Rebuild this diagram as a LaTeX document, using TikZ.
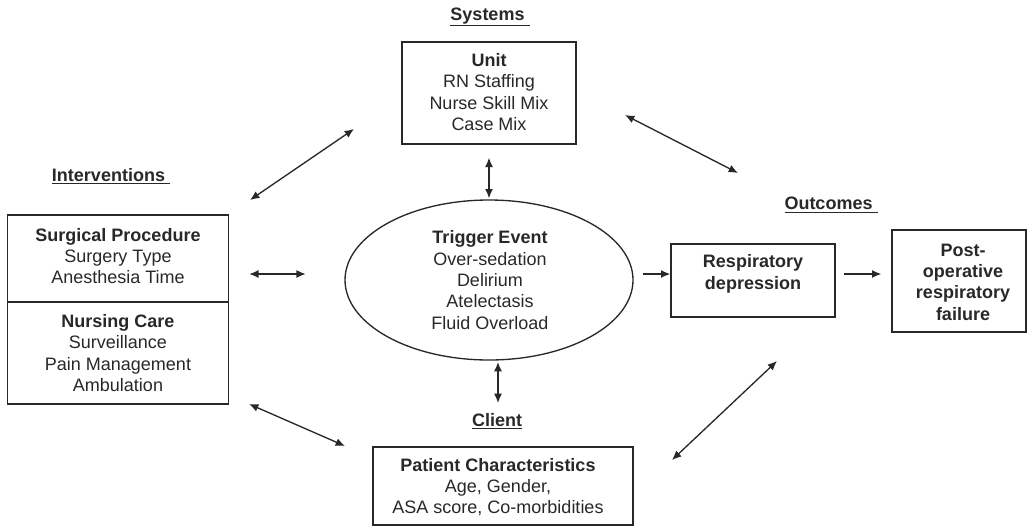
\documentclass[tikz,border=0pt]{standalone}
\usepackage{fontspec}
\setmainfont{Liberation Sans}
\usetikzlibrary{arrows.meta,shapes.geometric}

\definecolor{ink}{RGB}{40,40,40}
\tikzset{every picture/.style={line width=0.75pt}}
\tikzset{
  box/.style={draw=ink, line width=1pt, inner sep=0pt},
  txt/.style={text=ink, align=center, inner sep=0.75pt, font=\fontsize{13.5}{16}\selectfont},
  head/.style={txt, font=\fontsize{13.5}{16}\selectfont\bfseries},
  arr/.style={draw=ink, line width=1pt, -{Latex[length=7pt,width=6pt]}},
  biarr/.style={draw=ink, line width=1pt, {Latex[length=7pt,width=6pt]}-{Latex[length=7pt,width=6pt]}}
}

\begin{document}
\begin{tikzpicture}[x=0.75pt,y=0.75pt,yscale=-1,xscale=1]
\path[use as bounding box] (0,0) rectangle (1027,525);

%Shape: Rectangle [unit]
\node[box, minimum width=130.5pt, minimum height=76.5pt] (unit) at (489,93) {};
%Shape: Rectangle [surgical procedure]
\node[box, minimum width=165.75pt, minimum height=65.25pt] (surg) at (118,258.5) {};
%Shape: Rectangle [nursing care]
\node[box, minimum width=165.75pt, minimum height=76.5pt] (nurs) at (118,353) {};
%Shape: Ellipse [trigger]
\node[box, ellipse, minimum width=216pt, minimum height=120pt] (trig) at (489,280) {};
%Shape: Rectangle [respiratory depression]
\node[box, minimum width=123pt, minimum height=54.75pt] (resp) at (753,280.5) {};
%Shape: Rectangle [respiratory failure]
\node[box, minimum width=100.5pt, minimum height=76.5pt] (fail) at (959,281) {};
%Shape: Rectangle [patient]
\node[box, minimum width=195pt, minimum height=58.5pt] (pat) at (503,486) {};

% Text Node
\node[head] (systems) at (490,17) {\underline{Systems\ }};
% Text Node
\node[head] (interv) at (111,176) {\underline{Interventions\ }};
% Text Node
\node[head] (outcomes) at (831,205) {\underline{Outcomes\ }};
% Text Node
\node[head] (client) at (497,421) {\underline{Client}};

% Text Node
\node[txt] (unittxt) at (489,92) {\textbf{Unit}\\RN Staffing\\Nurse Skill Mix\\Case Mix};
% Text Node
\node[txt] (surgtxt) at (118,256) {\textbf{Surgical Procedure}\\Surgery Type\\Anesthesia Time};
% Text Node
\node[txt] (nurstxt) at (118,353) {\textbf{Nursing Care}\\Surveillance\\Pain Management\\Ambulation};
% Text Node
\node[txt] (trigtxt) at (490,280) {\textbf{Trigger Event}\\Over-sedation\\Delirium\\Atelectasis\\Fluid Overload};
% Text Node
\node[head] (resptxt) at (753,274) {Respiratory\\depression};
% Text Node
\node[head] (failtxt) at (963,282) {Post-\\operative\\respiratory\\failure};
% Text Node
\node[txt] (pattxt) at (498,487) {\textbf{Patient Characteristics}\\Age, Gender,\\ASA score, Co-morbidities};

%Straight Lines [arrow ends]
\coordinate (tl1) at (250,200);
\coordinate (tl2) at (354,129);
\coordinate (tr1) at (625,115);
\coordinate (tr2) at (738,173);
\coordinate (bl1) at (249,404);
\coordinate (bl2) at (345,446);
\coordinate (br1) at (672,460);
\coordinate (br2) at (777,361);

%Straight Lines
\draw[biarr] (tl1) -- (tl2);
\draw[biarr] (tr1) -- (tr2);
\draw[biarr] (bl1) -- (bl2);
\draw[biarr] (br1) -- (br2);

%Straight Lines
\draw[biarr, shorten <=9.75pt, shorten >=0.75pt] (unit.south) -- (trig.north);
\draw[biarr, shorten <=1pt, shorten >=32.5pt] (pattxt.north |- trig.south) -- (pattxt.north |- pat.north);
\draw[biarr, shorten <=15pt, shorten >=29pt] (surg.east |- resptxt) -- (trig.west |- resptxt);
\draw[arr, shorten <=6.75pt] (trig.east |- resptxt) -- (resp.west |- resptxt);
\draw[arr, shorten <=6pt, shorten >=7.5pt] (resp.east |- resptxt) -- (fail.west |- resptxt);

\end{tikzpicture}
\end{document}
